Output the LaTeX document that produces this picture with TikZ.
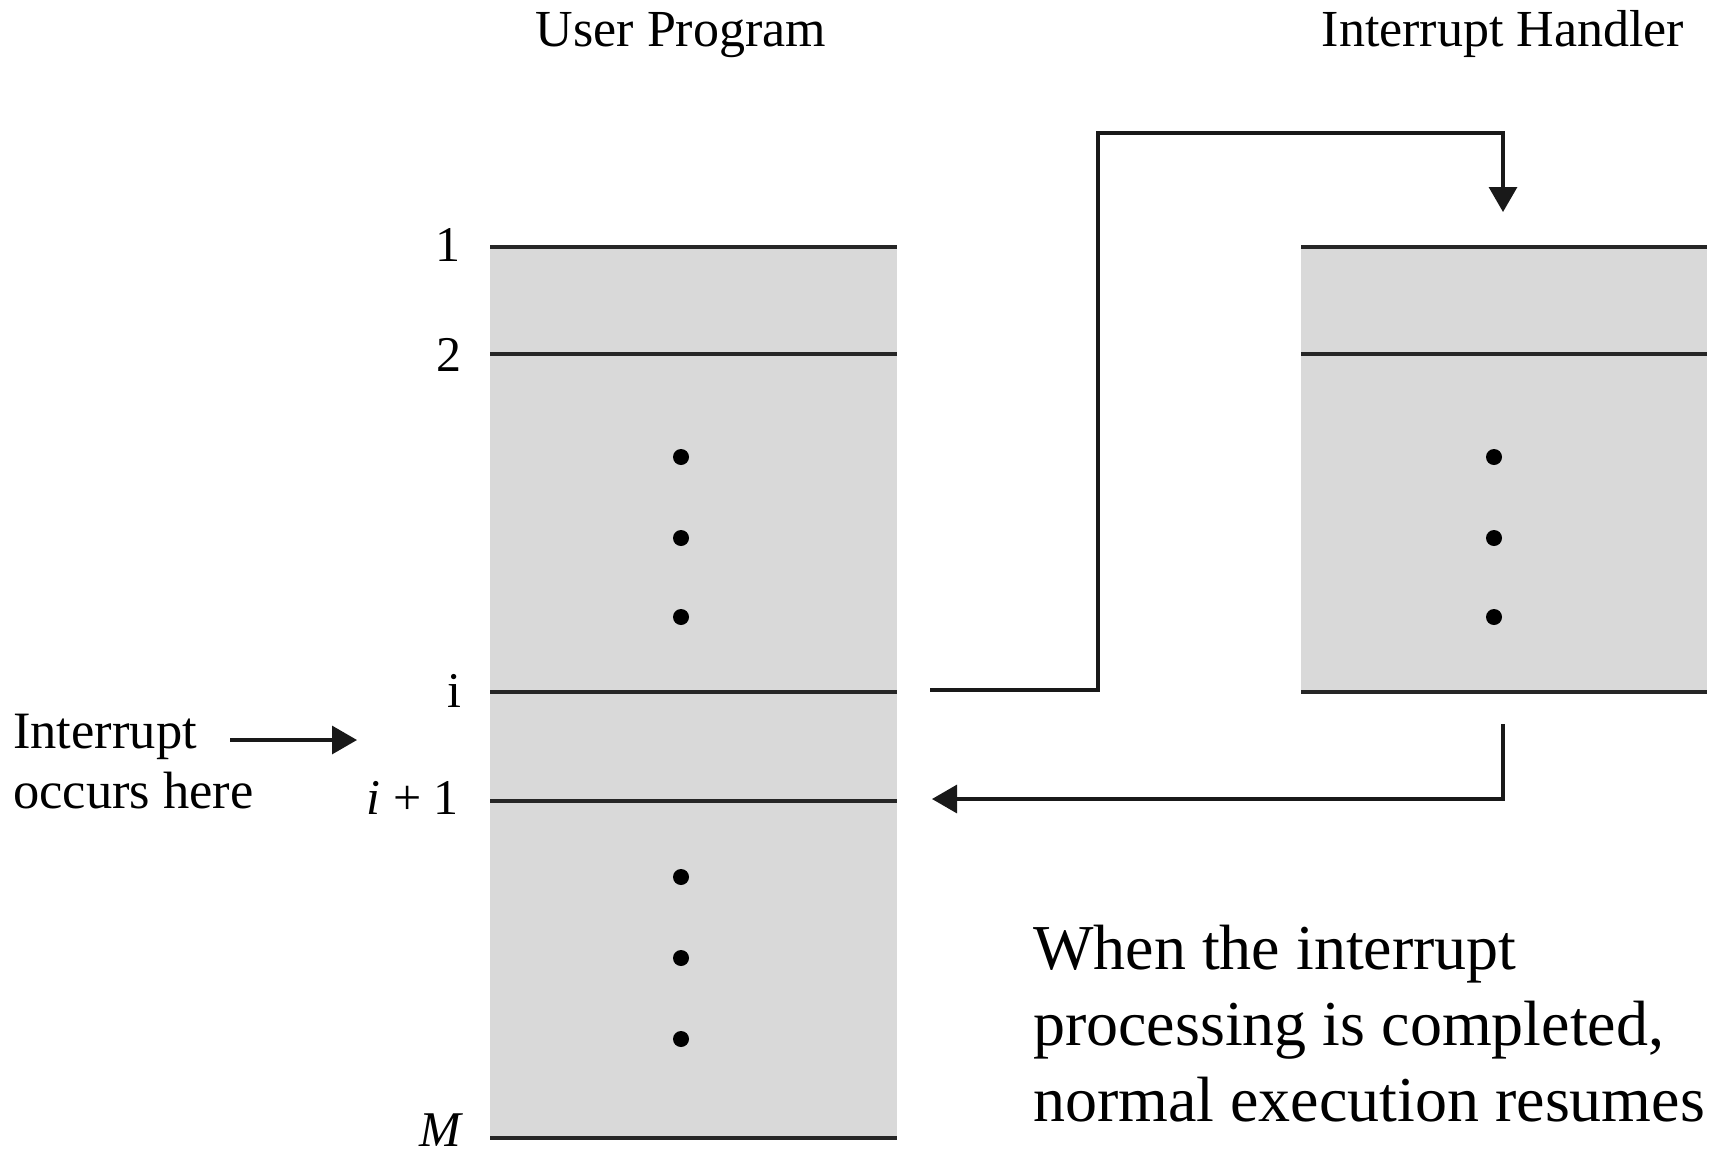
\documentclass[tikz,border=0pt]{standalone}
\usepackage{fontspec}
\setmainfont{Liberation Serif}
\usetikzlibrary{arrows.meta}
\definecolor{boxgray}{HTML}{D9D9D9}
\tikzset{
  rowline/.style={line width=3.8pt, draw=black!85},
  conn/.style={line width=3.2pt, draw=black!90},
  tip/.style={-{Triangle[length=25pt,width=28pt]}},
  dotmark/.style={circle, fill=black, inner sep=0pt, minimum size=16pt},
  title/.style={font=\fontsize{52}{60}\selectfont, anchor=base, inner sep=0pt},
  numlabel/.style={font=\fontsize{50}{58}\selectfont, anchor=base east, inner sep=0pt},
  sidetext/.style={font=\fontsize{52.5}{60}\selectfont, anchor=base west, inner sep=0pt},
  bigtext/.style={font=\fontsize{64}{76}\selectfont, anchor=base west, inner sep=0pt},
}
\begin{document}
\begin{tikzpicture}[x=1pt,y=-1pt]
\useasboundingbox (0,0) rectangle (1719,1152);
% gray boxes
\fill[boxgray] (490,247) rectangle (897,1138);
\fill[boxgray] (1301,247) rectangle (1707,692);
% row lines
\foreach \yy in {247,354,692,801,1138} \draw[rowline] (490,\yy) -- (897,\yy);
\foreach \yy in {247,354,692} \draw[rowline] (1301,\yy) -- (1707,\yy);
% dots
\foreach \yy [count=\k] in {457,538,617,877,958,1039} \node[dotmark] (ud\k) at (681,\yy) {};
\foreach \yy [count=\k] in {457,538,617} \node[dotmark] (hd\k) at (1494,\yy) {};
% titles
\node[title] (tuser) at (681,46) {User Program};
\node[title] (thandler) at (1503,46) {Interrupt Handler};
% row labels
\node[numlabel] (l1) at (461,261) {1};
\node[numlabel] (l2) at (462,371) {2};
\node[numlabel] (li) at (462,707) {i};
\node[numlabel] (lip) at (459,814) {\textit{i} + 1};
\node[numlabel, text depth=0pt] (lm) at (464,1146) {\textit{M}};
% interrupt text
\node[sidetext] (int1) at (13,748) {Interrupt};
\node[sidetext] (int2) at (13,808) {occurs here};
\coordinate (ia) at (230,740);
\coordinate (ib) at (357,740);
\draw[conn,tip] (ia) -- (ib);
% connectors
\coordinate (outI) at (930,690);
\coordinate (hTop) at (1503,212);
\draw[conn,tip] (outI) -- (1098,690) -- (1098,133) -- (1503,133) -- (hTop);
\coordinate (hBot) at (1503,724);
\coordinate (retI) at (932,799);
\draw[conn,tip] (hBot) -- (1503,799) -- (retI);
% bottom text
\node[bigtext] (b1) at (1033,969) {When the interrupt};
\node[bigtext] (b2) at (1033,1045) {processing is completed,};
\node[bigtext] (b3) at (1033,1121) {normal execution resumes};
\end{tikzpicture}
\end{document}
